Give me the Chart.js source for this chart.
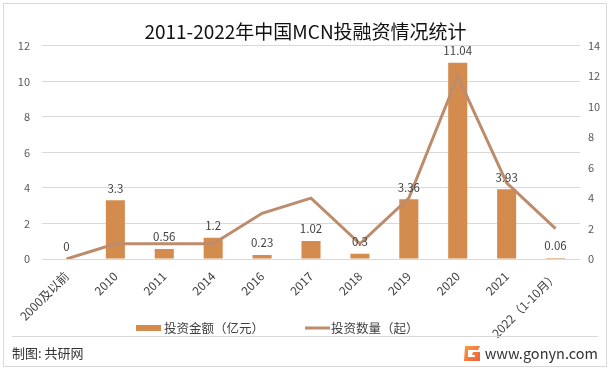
<!DOCTYPE html>
<html>
<head>
<meta charset="utf-8">
<script src="https://cdn.jsdelivr.net/npm/chart.js@4/dist/chart.umd.min.js"></script>
<style>
html,body{margin:0;padding:0;background:#fff;}
#wrap{width:611px;height:372px;position:relative;}
</style>
</head>
<body>
<div id="wrap"><canvas id="c" width="611" height="372"></canvas></div>
<script>
const categories = ['2000及以前','2010','2011','2014','2016','2017','2018','2019','2020','2021','2022（1-10月）'];
const amountValues = [0, 3.3, 0.56, 1.2, 0.23, 1.02, 0.3, 3.36, 11.04, 3.93, 0.06];
const countValues = [0, 1, 1, 1, 3, 4, 1, 4, 12, 5, 2];
const leftTicks = [0, 2, 4, 6, 8, 10, 12];
const rightTicks = [0, 2, 4, 6, 8, 10, 12, 14];
const amountLabel = '投资金额（亿元）';
const countLabel = '投资数量（起）';
const titleText = '2011-2022年中国MCN投融资情况统计';
const footerLeft = '制图: 共研网';
const footerRight = 'www.gonyn.com';

const BAR = '#D48C4E';
const LINE = '#BC8C6C';
const FONT = '"Noto Sans CJK SC", "Noto Sans", sans-serif';

const decor = {
  id: 'decor',
  beforeDraw(chart) {
    const ctx = chart.ctx;
    ctx.save();
    ctx.fillStyle = '#fff';
    ctx.fillRect(0, 0, chart.width, chart.height);
    ctx.strokeStyle = '#D9D9D9';
    ctx.lineWidth = 1;
    ctx.strokeRect(3.5, 3.5, 603, 363);
    ctx.restore();
  },
  afterDraw(chart) {
    const ctx = chart.ctx;
    ctx.save();
    // value labels above bars
    const meta = chart.getDatasetMeta(0);
    ctx.font = '11.5px ' + FONT;
    ctx.fillStyle = '#404040';
    ctx.textAlign = 'center';
    ctx.textBaseline = 'middle';
    meta.data.forEach((el, i) => {
      ctx.fillText(String(amountValues[i]), el.x, el.y - 12);
    });
    // legend
    const ly = 328;
    ctx.fillStyle = BAR;
    ctx.fillRect(136, ly - 3, 25, 6);
    ctx.fillStyle = '#404040';
    ctx.textAlign = 'left';
    ctx.font = '12.5px ' + FONT;
    ctx.fillText(chart.data.datasets[0].label, 164, ly);
    ctx.strokeStyle = LINE;
    ctx.lineWidth = 3;
    ctx.beginPath();
    ctx.moveTo(305, ly);
    ctx.lineTo(330, ly);
    ctx.stroke();
    ctx.fillText(chart.data.datasets[1].label, 331, ly);
    // separator
    ctx.strokeStyle = '#D9D9D9';
    ctx.lineWidth = 1;
    ctx.beginPath();
    ctx.moveTo(12, 336.5);
    ctx.lineTo(598, 336.5);
    ctx.stroke();
    // footer
    ctx.fillStyle = '#333';
    ctx.font = '13px ' + FONT;
    ctx.fillText(footerLeft, 12, 353);
    // logo
    const g = ctx.createLinearGradient(463, 345, 480, 361);
    g.addColorStop(0, '#F7A046');
    g.addColorStop(1, '#F0603A');
    ctx.fillStyle = g;
    ctx.beginPath();
    ctx.moveTo(465, 346); ctx.lineTo(480, 346); ctx.lineTo(478, 350); ctx.lineTo(468, 350);
    ctx.lineTo(468, 357); ctx.lineTo(475, 357); ctx.lineTo(475, 355); ctx.lineTo(472, 355);
    ctx.lineTo(473, 352); ctx.lineTo(480, 352); ctx.lineTo(480, 361); ctx.lineTo(464, 361);
    ctx.closePath();
    ctx.fill();
    ctx.fillStyle = '#333';
    ctx.font = '14.5px ' + FONT;
    ctx.textAlign = 'right';
    ctx.fillText(footerRight, 598, 353);
    ctx.restore();
  }
};

new Chart(document.getElementById('c'), {
  data: {
    labels: categories,
    datasets: [
      {
        type: 'bar',
        label: amountLabel,
        data: amountValues,
        backgroundColor: BAR,
        yAxisID: 'y',
        barPercentage: 0.39,
        categoryPercentage: 1,
        order: 2
      },
      {
        type: 'line',
        label: countLabel,
        data: countValues,
        borderColor: LINE,
        backgroundColor: LINE,
        borderWidth: 3,
        pointRadius: 0,
        tension: 0,
        yAxisID: 'y1',
        order: 1
      }
    ]
  },
  options: {
    responsive: false,
    animation: false,
    devicePixelRatio: 1,
    layout: { padding: { left: 0, right: 0, top: 0, bottom: 0 } },
    plugins: {
      legend: { display: false },
      tooltip: { enabled: false },
      title: {
        display: true,
        text: titleText,
        color: '#111',
        font: { family: FONT, size: 19, weight: 'normal' },
        padding: { top: 20, bottom: 3 }
      }
    },
    scales: {
      x: {
        grid: { display: false },
        border: { display: false },
        ticks: {
          color: '#404040',
          font: { family: FONT, size: 12 },
          maxRotation: 45,
          minRotation: 45,
          autoSkip: false,
          padding: 2
        },
        afterFit(s) { s.height = 113; }
      },
      y: {
        position: 'left',
        min: 0,
        max: 12,
        afterBuildTicks(s) { s.ticks = leftTicks.map(v => ({ value: v })); },
        grid: { color: '#D9D9D9', drawTicks: false },
        border: { display: false },
        ticks: { color: '#595959', font: { family: FONT, size: 11 }, padding: 12 },
        afterFit(s) { s.width = 42; }
      },
      y1: {
        position: 'right',
        min: 0,
        max: 14,
        afterBuildTicks(s) { s.ticks = rightTicks.map(v => ({ value: v })); },
        grid: { display: false, drawTicks: false },
        border: { display: false },
        ticks: { color: '#595959', font: { family: FONT, size: 11 }, padding: 8 },
        afterFit(s) { s.width = 31; }
      }
    }
  },
  plugins: [decor]
});
</script>
</body>
</html>
